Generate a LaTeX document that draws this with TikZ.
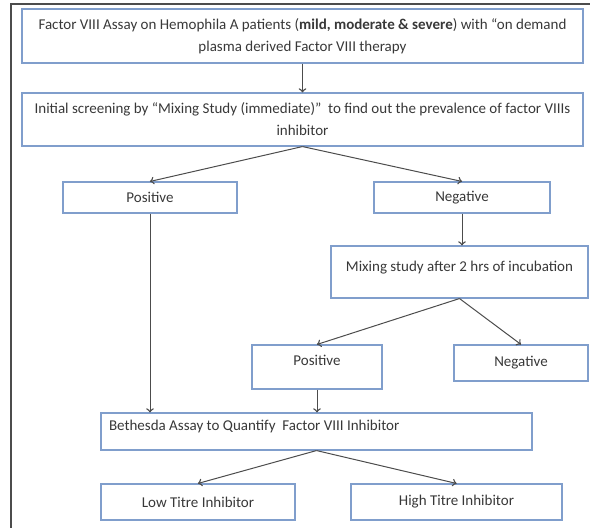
\documentclass[tikz,border=0pt]{standalone}
\usepackage{fontspec}
\setmainfont{Carlito}
\usepackage{tikz}
\usetikzlibrary{arrows}
\usetikzlibrary{decorations.markings}
\usetikzlibrary{positioning}
\tikzset{->/.style = {decoration={markings,
                                  mark=at position 1 with {\arrow[scale=1.4]{to}}},
                      postaction={decorate}}}
\tikzset{box/.style = {draw=mbox, line width=1.1pt, inner sep=0, align=center,
                       text=mtext, font=\fontsize{15}{22}\selectfont}}
\tikzset{link/.style = {draw=mline, line width=1pt}}
\definecolor{mbox}{rgb}{0.5, 0.62, 0.8}
\definecolor{mline}{rgb}{0.3, 0.3, 0.3}
\definecolor{mtext}{rgb}{0.22, 0.22, 0.22}

\begin{document}
\begin{tikzpicture}[x=1pt, y=-1pt]
    \useasboundingbox (0, 0) rectangle (590, 528);
    \draw [line width=1.2pt, black!70] (11, 528) -- (11, 4) -- (590, 4);

    \node [box, minimum width=561, minimum height=54] (assay) at (302.5, 36)
        {Factor VIII Assay on Hemophila A patients (\textbf{mild, moderate \& severe}) with “on demand\\
         plasma derived Factor VIII therapy};
    \node [box, minimum width=561, minimum height=53] (screen) at (302.5, 119.5)
        {Initial screening by “Mixing Study (immediate)”\ \ to find out the prevalence of factor VIIIs\\
         inhibitor};
    \node [box, minimum width=174, minimum height=31] (posA) at (150, 197.5) {Positive};
    \node [box, minimum width=176, minimum height=31] (negA) at (462, 197.5) {Negative};
    \node [box, minimum width=257, minimum height=52, text depth=11pt] (mix) at (459.5, 272)
        {Mixing study after 2 hrs of incubation};
    \node [box, minimum width=130, minimum height=44, text depth=14pt] (posB) at (317, 367) {Positive};
    \node [box, minimum width=134, minimum height=36] (negB) at (521, 363) {Negative};
    \node [box, minimum width=431, minimum height=37, text width=415, align=flush left, text depth=12pt] (bethesda) at (316.5, 431.5)
        {Bethesda Assay to Quantify\ \ Factor VIII Inhibitor};
    \node [box, minimum width=194, minimum height=36] (low) at (198, 502) {Low Titre Inhibitor};
    \node [box, minimum width=211, minimum height=36] (high) at (456.5, 502) {High Titre Inhibitor};

    \draw [link, ->] (assay) -- (screen);
    \draw [link, ->] (screen.south) -- (posA.north);
    \draw [link, ->] (screen.south) -- (negA.north);
    \draw [link, ->] (posA.south) -- (posA.south |- bethesda.north);
    \draw [link, ->] (negA.south) -- (negA.south |- mix.north);
    \draw [link, ->] (mix.south) -- (posB.north);
    \draw [link, ->] (mix.south) -- (negB.north);
    \draw [link, ->] (posB.south) -- (posB.south |- bethesda.north);
    \draw [link, ->] (bethesda.south) -- (low.north);
    \draw [link, ->] (bethesda.south) -- (high.north);
  \end{tikzpicture}
\end{document}
